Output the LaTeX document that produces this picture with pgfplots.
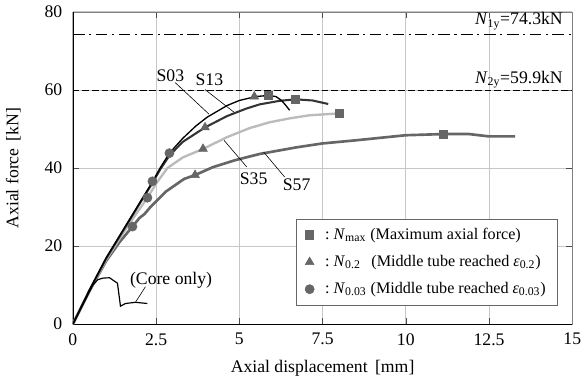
\documentclass[12pt,border=0pt]{standalone}
\usepackage{fontspec}
\setmainfont{Liberation Serif}
\usepackage{pgfplots}
\pgfplotsset{compat=1.18}
\definecolor{mk}{HTML}{666666}
\definecolor{cS13}{HTML}{333333}
\definecolor{cS35}{HTML}{BBBBBB}
\definecolor{cS57}{HTML}{666666}
\begin{document}
\begin{tikzpicture}
\begin{axis}[
  scale only axis, width=339pt, height=212pt,
  xmin=0, xmax=15, ymin=0, ymax=80,
  xtick={0,2.5,5,7.5,10,12.5,15}, ytick={0,20,40,60,80},
  xticklabels={0,2.5,5,7.5,10,12.5,15},
  grid=major, grid style={draw=black!22, line width=0.5pt},
  tick align=inside, major tick length=4pt, tick style={black!70},
  axis line style={black!50},
  xlabel={Axial displacement\ \,[mm]}, ylabel={Axial force\ \,[kN]},
  xlabel style={inner sep=1pt},
  yticklabel style={xshift=-3pt},
  xticklabel style={yshift=-2pt},
  ylabel shift=8pt, xlabel shift=5pt,
  /pgf/number format/assume math mode=true,
  legend cell align=left,
  legend style={at={(rel axis cs:0.971,0.3375)}, anchor=north east,
    draw=black!60, fill=white, inner xsep=6pt, inner ysep=4pt, row sep=5pt,
    font=\small},
]
% black left and bottom axis lines
\draw[black, line width=0.9pt] (rel axis cs:0,0) -- (rel axis cs:0,1);
\draw[black, line width=0.9pt] (rel axis cs:0,0) -- (rel axis cs:1,0);

% reference lines
\addplot[forget plot, black, line width=0.7pt, dash pattern=on 8pt off 3pt on 1.5pt off 3pt] coordinates {(0,74.3) (15,74.3)};
\addplot[forget plot, black, line width=0.7pt, dash pattern=on 4.5pt off 2pt] coordinates {(0,59.9) (15,59.9)};
\node[anchor=east] at (axis cs:14.9,77.6) {\textit{N}\textsubscript{1y}=74.3kN};
\node[anchor=east] at (axis cs:14.9,62.6) {\textit{N}\textsubscript{2y}=59.9kN};

% S57
\addplot[forget plot, cS57, line width=1.8pt] coordinates {
(0,0)(0.5,8.5)(1.0,16.2)(1.4,21)(1.79,25)(2.0,27.2)(2.15,28.2)(2.33,30)(2.8,34)(3.34,37.2)(3.67,38.2)(4.2,40.2)(4.87,42)(5.61,43.6)(6.72,45.3)(7.5,46.3)(8.5,47.1)(10,48.4)(11.13,48.7)(11.9,48.7)(12.5,48.1)(13.28,48.1)};
% S35
\addplot[forget plot, cS35, line width=1.6pt] coordinates {
(0,0)(0.5,8.6)(1.0,16.5)(1.5,23.2)(1.8,27)(2.24,32.4)(2.5,36)(2.84,40)(3.3,42.7)(3.91,44.9)(4.63,47.9)(5.3,50.2)(5.9,51.7)(6.5,52.7)(7.1,53.5)(8.0,54.0)(8.1,54.0)};
% S13
\addplot[forget plot, cS13, line width=1.4pt] coordinates {
(0,0)(0.5,8.7)(1.0,16.8)(1.5,23.8)(2.0,30.8)(2.4,36.3)(2.62,39.6)(2.9,43.2)(3.3,46.7)(3.97,50.4)(4.63,53.3)(5.2,55.2)(5.61,56.3)(6.2,57.2)(6.69,57.6)(7.2,57.3)(7.67,56.4)};
% S03
\addplot[forget plot, black, line width=0.9pt] coordinates {
(0,0)(0.5,8.8)(1.0,17)(1.5,24)(2.0,31)(2.4,36.6)(2.62,40)(2.9,43.8)(3.3,47.6)(3.7,50.8)(4.03,53)(4.63,56)(5.0,57.3)(5.49,58.3)(5.88,58.6)(6.1,58.3)(6.27,57.3)(6.4,56)(6.51,54.8)};
% Core only
\addplot[forget plot, black, line width=0.8pt] coordinates {
(0,0)(0.6,10)(0.75,11.4)(0.9,11.8)(1.1,11.9)(1.34,10.5)(1.43,4.6)(1.58,5.3)(1.88,5.6)(2.24,5.3)};

% markers
\addplot[only marks, mark=square*, mark size=2.8pt, mk, mark options={fill=mk, draw=mk}] coordinates {
(5.88,58.6)(6.69,57.6)(8.0,54.0)(11.13,48.7)};
\addlegendentry{\enspace:\ \textit{N}\textsubscript{max} (Maximum axial force)}
\addplot[only marks, mark=triangle*, mark size=3.4pt, mk, mark options={fill=mk, draw=mk}] coordinates {
(5.45,58.3)(3.97,50.4)(3.91,44.9)(3.67,38.2)};
\addlegendentry{\enspace:\ \textit{N}\textsubscript{0.2}\ \ \,(Middle tube reached \textit{ε}\textsubscript{0.2})}
\addplot[only marks, mark=*, mark size=3.1pt, mk, mark options={fill=mk, draw=mk}] coordinates {
(2.9,43.8)(2.39,36.6)(2.24,32.4)(1.79,25)};
\addlegendentry{\enspace:\ \textit{N}\textsubscript{0.03} (Middle tube reached \textit{ε}\textsubscript{0.03})}

% labels and leaders
\node at (axis cs:2.93,63.7) {S03};
\node at (axis cs:4.1,62.7) {S13};
\node at (axis cs:5.43,37.2) {S35};
\node at (axis cs:6.72,35.7) {S57};
\node at (axis cs:2.95,11.3) {(Core only)};
\draw[black, line width=0.4pt] (axis cs:3.07,61.9) -- (axis cs:4.09,53.8);
\draw[black, line width=0.4pt] (axis cs:3.97,60.1) -- (axis cs:4.84,54.3);
\draw[black, line width=0.4pt] (axis cs:4.54,47.1) -- (axis cs:5.22,40.3);
\draw[black, line width=0.4pt] (axis cs:5.73,44.1) -- (axis cs:6.36,37.7);
\draw[black, line width=0.4pt] (axis cs:2.18,9.6) -- (axis cs:1.88,5.6);
\end{axis}
\end{tikzpicture}
\end{document}
